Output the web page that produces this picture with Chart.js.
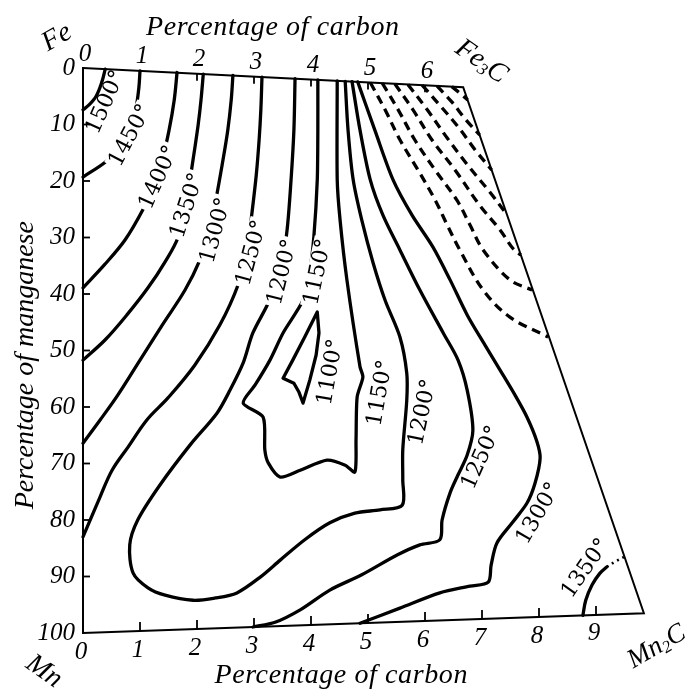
<!DOCTYPE html>
<html><head><meta charset="utf-8">
<script src="https://cdn.jsdelivr.net/npm/chart.js@4.4.1/dist/chart.umd.min.js"></script>
<style>html,body{margin:0;padding:0;background:#fff;}canvas{display:block;}</style>
</head><body>
<canvas id="c" width="686" height="691" style="width:686px;height:691px"></canvas>
<script>
// ---- axis ticks (percent carbon / percent manganese)
const carbonTicksTop = [0,1,2,3,4,5,6];
const carbonTicksBottom = [0,1,2,3,4,5,6,7,8,9];
const manganeseTicks = [0,10,20,30,40,50,60,70,80,90,100];

// ---- frame corners: Fe, Fe3C, Mn2C, Mn  [carbon %, manganese %]
const frameCorners = [[0,0],[6.67,3.4],[9.84,96.5],[0,100]];

// ---- isotherms [carbon %, manganese %]
const iso1500 = [[0.39,0.2],[0.33,2.5],[0.23,5.0],[0.11,6.5],[0,7.4]];
const iso1450 = [[1.0,0.5],[0.98,3.5],[0.93,7.1],[0.84,10.6],[0.70,13.6],[0.40,16.6],[0,19.3]];
const iso1400 = [[1.65,0.8],[1.60,5.7],[1.51,11.0],[1.39,16.3],[1.25,20.7],[1.05,25.1],[0.74,30.4],[0.37,34.9],[0,38.9]];
const iso1350 = [[2.11,1.1],[2.07,5.7],[2.02,10.1],[1.93,16.3],[1.82,23.4],[1.67,29.9],[1.44,34.3],[1.14,38.9],[0.77,43.7],[0.39,48.1],[0,51.7]];
const iso1300 = [[2.63,1.3],[2.60,5.7],[2.54,11.0],[2.44,17.2],[2.33,23.4],[2.23,28.7],[2.05,34.0],[1.79,39.3],[1.39,45.5],[1.0,51.7],[0.61,57.9],[0.30,62.3],[0,66.4]];
const iso1250Fe = [[3.14,1.6],[3.12,7.4],[3.09,12.7],[3.04,18.9],[2.96,26.0],[2.88,32.2],[2.72,38.4],[2.40,45.5],[1.96,52.6],[1.49,58.4],[1.12,62.3],[0.79,67.1],[0.51,71.2],[0.30,75.9],[0,83.0]];
const iso1200 = [[3.72,1.9],[3.70,11.0],[3.65,19.8],[3.58,28.7],[3.47,35.8],[3.25,41.6],[2.98,46.9],[2.81,52.2],[2.58,57.0],[2.35,61.1],[1.88,66.7],[1.35,73.8],[0.96,80.0],[0.82,84.4],[0.88,89.4],[1.14,92.0],[1.44,93.3],[1.93,94.2],[2.32,93.8],[2.70,92.9],[3.11,90.1],[3.46,87.1],[3.89,83.5],[4.33,80.5],[4.77,78.8],[5.21,78.2],[5.60,77.4],[5.61,72.9],[5.61,67.6],[5.68,58.8],[5.68,54.0],[5.56,47.6],[5.30,41.1],[5.09,34.5],[4.89,26.9],[4.74,19.8],[4.65,11.0],[4.60,2.35]];
const iso1150 = [[4.12,2.1],[4.12,11.0],[4.11,19.8],[4.05,29.9],[3.98,35.8],[3.86,41.1],[3.51,46.9],[3.28,51.7],[3.02,56.1],[2.81,59.3],[3.16,61.8],[3.19,67.6],[3.25,69.9],[3.46,72.4],[3.81,71.2],[4.28,69.4],[4.60,70.3],[4.77,71.5],[4.79,65.8],[4.81,58.2],[4.91,54.7],[4.86,52.9],[4.63,37.5],[4.51,26.9],[4.46,19.8],[4.46,2.27]];
const iso1100 = [[4.11,43.2],[4.14,46.9],[4.09,50.8],[3.98,55.2],[3.86,59.3],[3.79,57.4],[3.70,55.8],[3.51,54.9],[3.68,51.7],[3.89,47.6],[4.11,43.2]];
const iso1250C = [[4.72,2.41],[4.86,11.0],[5.04,19.8],[5.26,26.0],[5.56,32.2],[5.91,39.3],[6.32,46.9],[6.58,51.7],[6.74,57.0],[6.84,64.1],[6.74,68.5],[6.58,72.0],[6.44,75.2],[6.30,80.0],[6.26,83.5],[5.91,84.4],[5.51,86.2],[4.89,89.7],[4.33,92.4],[3.81,95.9],[3.37,98.1],[2.98,98.94]];
const iso1300C = [[4.82,2.46],[5.12,11.0],[5.44,19.8],[5.77,26.0],[6.14,31.7],[6.44,37.5],[6.74,43.7],[7.05,49.0],[7.32,53.5],[7.58,57.9],[7.79,61.8],[7.96,66.0],[8.02,69.0],[7.93,73.5],[7.79,77.0],[7.53,80.5],[7.26,84.1],[7.16,88.0],[7.11,91.0],[6.79,91.7],[6.26,92.9],[5.56,95.6],[4.86,98.27]];
const iso1350C = [[8.77,96.88],[8.82,94.2],[8.93,91.5],[9.07,89.4],[9.19,88.3]];
const iso1350Cdotted = [[9.19,88.3],[9.33,87.4],[9.49,86.55]];
// uncertain (dashed) isotherms near Fe3C
const dashedIso = [
  [[5.04,2.57],[5.30,7.4],[5.56,12.7],[5.88,18.1],[6.18,23.4],[6.39,27.8],[6.61,32.2],[7.02,39.3],[7.49,44.1],[8.16,47.6]],
  [[5.25,2.68],[5.53,7.4],[5.82,12.7],[6.18,18.1],[6.56,23.4],[6.79,27.8],[7.02,32.2],[7.49,37.5],[7.88,39.3]],
  [[5.47,2.79],[5.79,7.4],[6.12,12.7],[6.53,18.1],[6.96,24.3],[7.32,28.7],[7.54,31.9],[7.68,33.1]],
  [[5.70,2.91],[6.04,7.4],[6.39,12.4],[6.75,17.2],[7.14,22.0],[7.44,26.0]],
  [[5.95,3.03],[6.26,6.6],[6.58,10.4],[6.88,14.5],[7.17,18.05]],
  [[6.21,3.17],[6.47,6.0],[6.72,9.2],[6.96,11.86]],
  [[6.47,3.3],[6.63,4.6],[6.75,5.66]]
];

// ---- isotherm labels and where they sit [carbon %, manganese %]
const tempLabels = ['1500°','1450°','1400°','1350°','1300°','1250°','1200°','1150°','1100°','1150°','1200°','1250°','1300°','1350°'];
const tempLabelAt = [[0.39,6.0],[0.82,11.9],[1.32,19.3],[1.82,24.3],[2.32,28.7],[2.95,32.7],[3.49,36.1],[4.11,36.1],[4.33,53.8],[5.20,57.5],[5.95,60.9],[6.98,68.9],[7.98,78.8],[8.81,88.5]];

// ---- styling (kept apart from data)
const labelAngles = [-66,-62,-66,-72,-75,-75,-76,-78,-80,-80,-78,-66,-60,-55];
const labelBreaksLine = [false,true,true,true,true,true,true,true,false,false,false,false,false,false];

const pts = a => a.map(([x,y]) => ({x, y}));
const solid = (a, t) => ({data: pts(a), showLine: true, borderColor: '#000', borderWidth: 3.3, pointRadius: 0, tension: t === undefined ? 0.35 : t, fill: false, clip: false, borderCapStyle: 'round', borderJoinStyle: 'round'});
const datasets = [
  {data: pts(frameCorners), showLine: true, borderColor: '#000', borderWidth: 2, pointRadius: 0, tension: 0, fill: false, clip: false},
  solid(iso1500), solid(iso1450), solid(iso1400), solid(iso1350), solid(iso1300), solid(iso1250Fe),
  solid(iso1200, 0.3), solid(iso1150, 0.25), solid(iso1100, 0), solid(iso1250C, 0.3), solid(iso1300C, 0.3),
  solid(iso1350C),
  Object.assign(solid(iso1350Cdotted), {borderDash: [2, 4], borderWidth: 2.6, borderCapStyle: 'butt'})
].concat(dashedIso.map(d => Object.assign(solid(d), {borderDash: [9, 6], borderWidth: 3.3, borderCapStyle: 'butt'})));

const SERIF = '"Liberation Serif", "Times New Roman", serif';

function rich(ctx, parts, x, y, ang, size) {
  ctx.save(); ctx.translate(x, y); ctx.rotate(ang * Math.PI / 180);
  const big = 'italic ' + size + 'px ' + SERIF, small = 'italic ' + Math.round(size * 0.62) + 'px ' + SERIF;
  let w = 0;
  parts.forEach(p => { ctx.font = p.sub ? small : big; p.w = ctx.measureText(p.t).width; w += p.w; });
  let cx = -w / 2; ctx.textAlign = 'left'; ctx.textBaseline = 'alphabetic'; ctx.fillStyle = '#000';
  parts.forEach(p => { ctx.font = p.sub ? small : big; ctx.fillText(p.t, cx, p.sub ? size * 0.45 : size * 0.33); cx += p.w; });
  ctx.restore();
}

const decor = {
  id: 'decor',
  beforeDraw(chart) { const c = chart.ctx; c.save(); c.fillStyle = '#fff'; c.fillRect(0, 0, chart.width, chart.height); c.restore(); },
  afterDraw(chart) {
    const ctx = chart.ctx, xs = chart.scales.x, ys = chart.scales.y, ca = chart.chartArea;
    const X = v => xs.getPixelForValue(v), Y = v => ys.getPixelForValue(v);
    const fe3c = frameCorners[1], mn2c = frameCorners[2];
    const topMn = c => fe3c[1] * c / fe3c[0];
    const botMn = c => 100 - (100 - mn2c[1]) * c / mn2c[0];
    ctx.save();
    ctx.strokeStyle = '#000'; ctx.lineWidth = 1.8;
    const seg = (a, b, c, d) => { ctx.beginPath(); ctx.moveTo(a, b); ctx.lineTo(c, d); ctx.stroke(); };
    carbonTicksTop.forEach(c => { if (c) { const x = X(c), y = Y(topMn(c)); seg(x, y, x, y + 7); } });
    carbonTicksBottom.forEach(c => { if (c) { const x = X(c), y = Y(botMn(c)); seg(x, y, x, y - 9); } });
    manganeseTicks.forEach(m => { if (m && m !== 100) { const y = Y(m); seg(X(0), y, X(0) + 7, y); } });
    ctx.fillStyle = '#000';
    ctx.font = 'italic 25px ' + SERIF; ctx.textAlign = 'center'; ctx.textBaseline = 'middle';
    carbonTicksTop.forEach(c => ctx.fillText(String(c), X(c) + 2, Y(topMn(c)) - 14));
    carbonTicksBottom.forEach(c => ctx.fillText(String(c), X(c) - 2, Y(botMn(c)) + 19));
    // axis titles
    ctx.font = 'italic 28px ' + SERIF; ctx.textBaseline = 'alphabetic';
    try { ctx.letterSpacing = '0.6px'; } catch (e) {}
    ctx.fillText('Percentage of carbon', X(3.33), ca.top - 33);
    ctx.fillText('Percentage of carbon', X(4.53), ca.bottom + 50);
    try { ctx.letterSpacing = '0px'; } catch (e) {}
    ctx.save(); ctx.translate(33, Y(52.6)); ctx.rotate(-Math.PI / 2);
    ctx.fillText('Percentage of manganese', 0, 0); ctx.restore();
    // corner names
    rich(ctx, [{t: 'Fe'}], X(0) - 27, Y(0) - 32, -30, 28);
    rich(ctx, [{t: 'Fe'}, {t: '3', sub: true}, {t: 'C'}], X(fe3c[0]) + 19, Y(fe3c[1]) - 27, 35, 28);
    rich(ctx, [{t: 'Mn'}], X(0) - 38, Y(100) + 37, 35, 28);
    rich(ctx, [{t: 'Mn'}, {t: '2', sub: true}, {t: 'C'}], X(mn2c[0]) + 12, Y(mn2c[1]) + 32, -30, 27);
    // isotherm labels
    tempLabels.forEach((t, i) => {
      const [c, m] = tempLabelAt[i];
      ctx.save(); ctx.translate(X(c), Y(m)); ctx.rotate(labelAngles[i] * Math.PI / 180);
      ctx.font = '22px "DejaVu Serif", serif'; ctx.textAlign = 'center'; ctx.textBaseline = 'middle';
      if (labelBreaksLine[i]) { const w = ctx.measureText(t).width; ctx.fillStyle = '#fff'; ctx.fillRect(-w / 2 - 2, -10, w + 4, 20); }
      ctx.fillStyle = '#000'; ctx.fillText(t, 0, 1);
      ctx.restore();
    });
    ctx.restore();
  }
};

new Chart(document.getElementById('c'), {
  type: 'scatter',
  data: {datasets},
  options: {
    responsive: false, animation: false, events: [],
    layout: {padding: {left: 0, top: 68, right: 33, bottom: 58}},
    scales: {
      x: {type: 'linear', min: 0, max: 10, display: false},
      y: {
        type: 'linear', min: 0, max: 100, reverse: true, position: 'left',
        afterFit(s) { s.width = 83; },
        afterBuildTicks(s) { s.ticks = manganeseTicks.map(v => ({value: v})); },
        ticks: {color: '#000', padding: 8, font: {family: SERIF, style: 'italic', size: 25}},
        grid: {display: false, drawTicks: false},
        border: {display: true, color: '#000', width: 2}
      }
    },
    plugins: {legend: {display: false}, tooltip: {enabled: false}, title: {display: false}}
  },
  plugins: [decor]
});
</script>
</body></html>
